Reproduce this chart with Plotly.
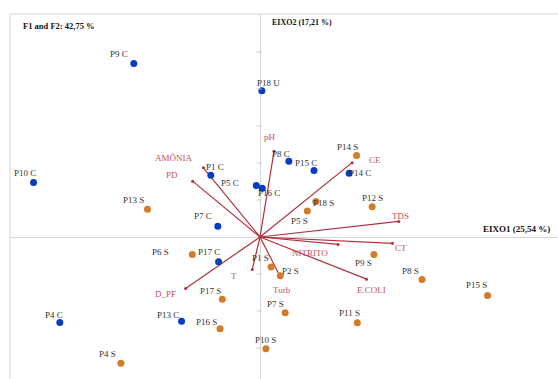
import plotly.graph_objects as go

# --- observation scores (F1, F2) ---
obs_labels = ["P9 C", "P18 U", "P10 C", "P1 C", "P5 C", "P16 C", "P7 C", "P8 C",
              "P15 C", "P14 C", "P17 C", "P13 C", "P4 C",
              "P13 S", "P14 S", "P18 S", "P5 S", "P12 S", "P6 S", "P1 S", "P2 S",
              "P17 S", "P7 S", "P16 S", "P4 S", "P10 S", "P11 S", "P9 S", "P8 S", "P15 S"]
obs_f1 = [-3.41, 0.05, -6.12, -1.33, -0.10, 0.06, -1.14, 0.78,
          1.46, 2.41, -1.12, -2.12, -5.41,
          -3.04, 2.61, 1.51, 1.28, 3.03, -1.83, 0.30, 0.55,
          -1.02, 0.68, -1.08, -3.76, 0.16, 2.63, 3.08, 4.38, 6.15]
obs_f2 = [4.69, 3.95, 1.47, 1.67, 1.39, 1.32, 0.29, 2.05,
          1.80, 1.72, -0.67, -2.28, -2.31,
          0.75, 2.20, 0.96, 0.70, 0.82, -0.47, -0.81, -1.05,
          -1.68, -2.05, -2.48, -3.41, -3.02, -2.32, -0.47, -1.15, -1.58]
obs_group = ["C", "U", "C", "C", "C", "C", "C", "C",
             "C", "C", "C", "C", "C",
             "S", "S", "S", "S", "S", "S", "S", "S",
             "S", "S", "S", "S", "S", "S", "S", "S", "S"]

# --- variable loadings (F1, F2) ---
var_labels = ["pH", "AMÔNIA", "PD", "CE", "TDS", "CT", "NITRITO", "E.COLI", "Turb", "T", "D_PF"]
var_f1 = [0.38, -1.53, -1.82, 2.49, 3.75, 3.58, 2.11, 2.88, 0.53, -0.21, -2.01]
var_f2 = [2.32, 1.87, 1.51, 2.01, 0.42, -0.17, -0.20, -1.14, -1.04, -0.88, -1.39]

y_ticks = [-3, -2, -1, 1, 2, 3, 4, 5]

# label offsets in pixels (dx, dy; dy positive = downward)
obs_label_shift = {
    "P9 C": (-15, -9), "P18 U": (7, -8), "P10 C": (-9, -10), "P1 C": (4, -8),
    "P5 C": (-26, -3), "P16 C": (7, 5), "P7 C": (-15, -10), "P8 C": (-8, -7),
    "P15 C": (-8, -7), "P14 C": (11, 0), "P17 C": (-10, -10), "P13 C": (-14, -6),
    "P4 C": (-6, -7), "P13 S": (-14, -9), "P14 S": (-9, -9), "P18 S": (8, 2),
    "P5 S": (-8, 10), "P12 S": (0, -9), "P6 S": (-32, -2), "P1 S": (-11, -9),
    "P2 S": (10, -5), "P17 S": (-12, -8), "P7 S": (-10, -9), "P16 S": (-14, -7),
    "P4 S": (-13, -9), "P10 S": (0, -9), "P11 S": (-8, -10), "P9 S": (-10, 9),
    "P8 S": (-12, -9), "P15 S": (-11, -10),
}
var_label_shift = {
    "pH": (-4, -14), "AMÔNIA": (-30, -10), "PD": (-21, -6), "CE": (23, -3),
    "TDS": (2, -5), "CT": (9, 5), "NITRITO": (-28, 9), "E.COLI": (5, 11),
    "Turb": (2, 15), "T": (-18, 6), "D_PF": (-20, 6),
}

W, H = 558, 379
ML, MT = 10, 14
PX = 37.0  # pixels per unit
x_range = [-250 / PX, 298 / PX]
y_range = [-142 / PX, 223 / PX]

BLUE = "#0a3cc2"
ORANGE = "#d27b28"
LINE_RED = "#b0303c"
LABEL_RED = "#c8505a"
SERIF = "Liberation Serif, Times New Roman, serif"

fig = go.Figure()

# variable vectors
vx, vy = [], []
for a, b in zip(var_f1, var_f2):
    vx += [0, a, None]
    vy += [0, b, None]
fig.add_trace(go.Scatter(x=vx, y=vy, mode="lines",
                         line=dict(color=LINE_RED, width=1.2),
                         hoverinfo="skip", showlegend=False))
fig.add_trace(go.Scatter(x=var_f1, y=var_f2, mode="markers",
                         marker=dict(color=LINE_RED, size=3),
                         hoverinfo="skip", showlegend=False))

# observations
colors = [BLUE if g in ("C", "U") else ORANGE for g in obs_group]
fig.add_trace(go.Scatter(x=obs_f1, y=obs_f2, mode="markers",
                         marker=dict(color=colors, size=7),
                         text=obs_labels, showlegend=False))

annotations = []
for lab, a, b in zip(obs_labels, obs_f1, obs_f2):
    dx, dy = obs_label_shift[lab]
    annotations.append(dict(x=a, y=b, xref="x", yref="y", text=lab, showarrow=False,
                            xshift=dx, yshift=-dy,
                            font=dict(family=SERIF, size=9, color="#333333")))
for lab, a, b in zip(var_labels, var_f1, var_f2):
    dx, dy = var_label_shift[lab]
    annotations.append(dict(x=a, y=b, xref="x", yref="y", text=lab, showarrow=False,
                            xshift=dx, yshift=-dy,
                            font=dict(family=SERIF, size=9, color=LABEL_RED)))

pw, ph = W - ML, H - MT
annotations += [
    dict(xref="paper", yref="paper", x=(21 - ML) / pw, y=1 - (25.5 - MT) / ph,
         xanchor="left", yanchor="middle", showarrow=False,
         text="<b>F1 and F2: 42,75 %</b>", font=dict(family=SERIF, size=8.5, color="#111111")),
    dict(xref="x", yref="paper", x=0, xshift=10, y=1 - (22.5 - MT) / ph,
         xanchor="left", yanchor="middle", showarrow=False,
         text="<b>EIXO2 (17,21 %)</b>", font=dict(family=SERIF, size=8, color="#111111")),
    dict(xref="paper", yref="y", x=(552 - ML) / pw, y=0, yshift=8,
         xanchor="right", yanchor="middle", showarrow=False,
         text="<b>EIXO1 (25,54 %)</b>", font=dict(family=SERIF, size=9, color="#111111")),
]

shapes = [
    dict(type="line", xref="paper", yref="paper", x0=0, x1=1, y0=1, y1=1,
         line=dict(color="#d6d6d6", width=1)),
    dict(type="line", xref="paper", yref="paper", x0=0, x1=0, y0=0, y1=1,
         line=dict(color="#d6d6d6", width=1)),
]
for t in y_ticks:
    shapes.append(dict(type="line", xref="x", yref="y", x0=-0.09, x1=0.04, y0=t, y1=t,
                       line=dict(color="#c8c8c8", width=1)))

fig.update_layout(
    width=W, height=H,
    margin=dict(l=ML, r=0, t=MT, b=0),
    paper_bgcolor="white", plot_bgcolor="white",
    xaxis=dict(range=x_range, showgrid=False, showticklabels=False, ticks="",
               zeroline=True, zerolinecolor="#d6d6d6", zerolinewidth=1, showline=False),
    yaxis=dict(range=y_range, showgrid=False, showticklabels=False, ticks="",
               zeroline=True, zerolinecolor="#d6d6d6", zerolinewidth=1, showline=False),
    annotations=annotations,
    shapes=shapes,
    showlegend=False,
)

fig.write_html("out.html")
